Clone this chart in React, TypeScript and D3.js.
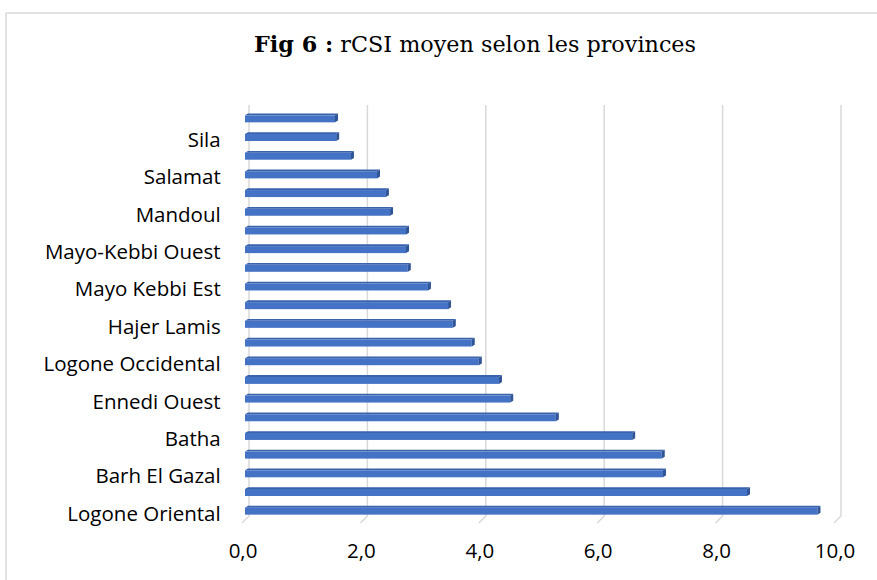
import React from 'react';
import * as d3 from 'd3';

// categories from bottom to top (Excel order); empty = label skipped on axis
const provinces = [
  'Logone Oriental', '', 'Barh El Gazal', '', 'Batha', '', 'Ennedi Ouest', '',
  'Logone Occidental', '', 'Hajer Lamis', '', 'Mayo Kebbi Est', '', 'Mayo-Kebbi Ouest', '',
  'Mandoul', '', 'Salamat', '', 'Sila', '',
];
const rcsi = [
  9.67, 8.48, 7.06, 7.04, 6.54, 5.25, 4.48, 4.29, 3.95, 3.83, 3.51,
  3.43, 3.09, 2.75, 2.72, 2.72, 2.45, 2.38, 2.23, 1.79, 1.54, 1.52,
];
const xTicks = [0, 2, 4, 6, 8, 10];
const tickLabels = ['0,0', '2,0', '4,0', '6,0', '8,0', '10,0'];

const W = 877;
const H = 580;
const plot = { left: 249, right: 841, top: 105, bottom: 516 };
const depth = 7; // 3D floor offset

export default function App() {
  const x = d3.scaleLinear().domain([0, 10]).range([plot.left, plot.right]);
  const y = d3
    .scaleBand<number>()
    .domain(d3.range(provinces.length))
    .range([plot.bottom, plot.top])
    .padding(0);

  const barH = 7;
  const topH = 1.8;
  const shift = 4; // bars sit halfway in depth

  return (
    <svg
      width={W}
      height={H}
      style={{ position: 'absolute', left: 0, top: 0, background: '#fff' }}
    >
      {/* chart frame */}
      <line x1={6} y1={13} x2={W} y2={13} stroke="#d9d9d9" strokeWidth={1.5} />
      <line x1={6} y1={13} x2={6} y2={H} stroke="#d9d9d9" strokeWidth={1.5} />

      <text
        x={475}
        y={52}
        textAnchor="middle"
        fontFamily="'DejaVu Serif', serif"
        fontSize={22.3}
        fill="#000"
      >
        <tspan fontWeight="bold">Fig 6 :</tspan>
        <tspan> rCSI moyen selon les provinces</tspan>
      </text>

      {/* gridlines on back wall, bending onto the floor */}
      {xTicks.map((t) => (
        <polyline
          key={t}
          points={`${x(t)},${plot.top} ${x(t)},${plot.bottom} ${x(t) - depth},${plot.bottom + depth}`}
          fill="none"
          stroke="#d9d9d9"
          strokeWidth={1.5}
        />
      ))}

      {rcsi.map((v, i) => {
        const cy = (y(i) as number) + y.bandwidth() / 2 + shift + 0.5;
        const x0 = x(0) - shift;
        const x1 = x(v) - shift;
        const yt = cy - barH / 2;
        return (
          <g key={i}>
            <polygon
              points={`${x0},${yt} ${x0 + 3},${yt - topH} ${x1 + 3},${yt - topH} ${x1},${yt}`}
              fill="#3a62ad"
            />
            <rect x={x0} y={yt} width={x1 - x0} height={barH} fill="#4472c4" />
            <polygon
              points={`${x1},${yt} ${x1 + 3},${yt - topH} ${x1 + 3},${yt + barH - topH} ${x1},${yt + barH}`}
              fill="#2f5597"
            />
          </g>
        );
      })}

      {provinces.map((p, i) =>
        p ? (
          <text
            key={i}
            x={220.7}
            y={(y(i) as number) + y.bandwidth() / 2 + depth + 1.5}
            textAnchor="end"
            dominantBaseline="middle"
            fontFamily="'Open Sans', sans-serif"
            fontSize={20.5}
            fill="#000"
          >
            {p}
          </text>
        ) : null
      )}

      {xTicks.map((t, i) => (
        <text
          key={t}
          x={x(t) - 6}
          y={553}
          textAnchor="middle"
          dominantBaseline="middle"
          fontFamily="'Open Sans', sans-serif"
          fontSize={20.5}
          fill="#000"
        >
          {tickLabels[i]}
        </text>
      ))}
    </svg>
  );
}
